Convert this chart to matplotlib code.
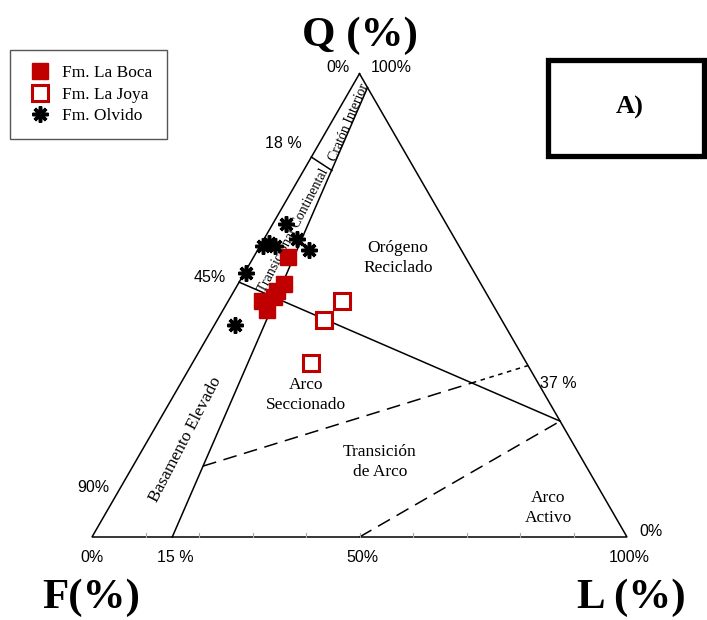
import numpy as np
import matplotlib
matplotlib.use("Agg")
import matplotlib.pyplot as plt
from matplotlib.patches import Rectangle

# ---------------- data (Q, F, L in %) ----------------
series_names = ["Fm. La Boca", "Fm. La Joya", "Fm. Olvido"]

boca_Q = [60.5, 54.7, 53.2, 50.9, 48.9, 51.7]
boca_F = [33.2, 36.7, 38.8, 42.7, 42.8, 40.1]
boca_L = [6.3, 8.6, 8.0, 6.4, 8.3, 8.2]

joya_Q = [51.0, 46.9, 37.5]
joya_F = [27.7, 33.1, 40.3]
joya_L = [21.3, 20.0, 22.2]

olv_Q = [67.5, 64.4, 61.9, 62.9, 63.4, 62.7, 56.9, 45.7]
olv_F = [30.0, 29.5, 28.5, 36.6, 35.2, 34.4, 42.7, 50.4]
olv_L = [2.5, 6.1, 9.6, 0.5, 1.4, 2.9, 0.4, 3.9]

# field boundaries (Q, F, L)
triangle = [(100, 0, 0), (0, 100, 0), (0, 0, 100), (100, 0, 0)]
continental_line = [(0, 85, 15), (97, 0, 3)]
recycled_line = [(55, 45, 0), (25, 0, 75)]
craton_sep = [(82, 18, 0), (79.1, 15.6, 5.3)]
arc_line = [(15.3, 71.6, 13.1), (37, 0, 63)]
active_dashed = [(0, 50, 50), (25, 0, 75)]
bottom_ticks = [10, 20, 30, 40, 50, 60, 70, 80, 90]

RED = "#C00000"
SERIF = "Liberation Serif"
SANS = "Liberation Sans"


def tern(Q, F, L):
    Q = np.asarray(Q, float); F = np.asarray(F, float); L = np.asarray(L, float)
    s = Q + F + L
    q, l = Q / s, L / s
    return l + q / 2.0, q * np.sqrt(3) / 2.0


def to_xy(pts):
    Q, F, L = zip(*pts)
    return tern(Q, F, L)


def line(pts, **kw):
    x, y = to_xy(pts)
    ax.plot(x, y, **kw)


W, H = 707, 620
fig = plt.figure(figsize=(W / 100, H / 100), dpi=100)
ax = fig.add_axes([0, 0, 1, 1])
S = 535.0
x0p, y0p = 92.0, 537.0
ax.set_xlim(-x0p / S, (W - x0p) / S)
ax.set_ylim(-(H - y0p) / S, y0p / S)
ax.axis("off")


def P(px, py):
    return (px - x0p) / S, (y0p - py) / S


lw = 1.1
line(triangle, color="black", lw=lw, solid_joinstyle="miter")
line(continental_line, color="black", lw=lw)
line(recycled_line, color="black", lw=lw)
line(craton_sep, color="black", lw=lw)
line(active_dashed, color="black", lw=lw, dashes=(9, 5))

# arc line: dashed up to the recycled-orogen line, dotted beyond
ax_, ay_ = to_xy(arc_line)
cx_, cy_ = to_xy(recycled_line)
A = np.array([ax_[0], ay_[0]]); B = np.array([ax_[1], ay_[1]])
C = np.array([cx_[0], cy_[0]]); D = np.array([cx_[1], cy_[1]])
M = np.column_stack([B - A, C - D])
s_, u_ = np.linalg.solve(M, C - A)
X = A + s_ * (B - A)
ax.plot([A[0], X[0]], [A[1], X[1]], color="black", lw=lw, dashes=(9, 5))
ax.plot([X[0], B[0]], [X[1], B[1]], color="black", lw=lw, dashes=(3, 3))

# small ticks along F-L base
for t in bottom_ticks:
    x, y = tern([0], [100 - t], [t])
    ax.plot([x[0], x[0]], [y[0], y[0] + 4 / S], color="#aaaaaa", lw=0.8)

# data
xb, yb = tern(boca_Q, boca_F, boca_L)
ax.plot(xb, yb, ls="none", marker="s", ms=11.5, mfc=RED, mec=RED,
        label=series_names[0], zorder=5)
xj, yj = tern(joya_Q, joya_F, joya_L)
ax.plot(xj, yj, ls="none", marker="s", ms=11, mfc="white", mec=RED, mew=2.2,
        label=series_names[1], zorder=5)
xo, yo = tern(olv_Q, olv_F, olv_L)
ax.plot(xo, yo, ls="none", marker=(8, 2, 0), ms=11.5, mec="black", mew=2.5,
        color="black", label=series_names[2], zorder=6)

# axis titles
tt = dict(fontsize=31, fontweight="bold", family=SERIF, ha="center", va="center")
ax.text(*P(360, 36), "Q (%)", **tt)
ax.text(*P(91, 598), "F(%)", **tt)
ax.text(*P(631, 598), "L (%)", **tt)

# percent labels
pct = dict(fontsize=11.5, family=SANS, ha="center", va="center")
ax.text(*P(338, 67), "0%", **pct)
ax.text(*P(391, 67), "100%", **pct)
ax.text(*P(283, 143), "18 %", **pct)
ax.text(*P(210, 277), "45%", **pct)
ax.text(*P(93, 487), "90%", **pct)
ax.text(*P(558, 383), "37 %", **pct)
ax.text(*P(651, 532), "0%", **pct)
ax.text(*P(92, 557), "0%", **pct)
ax.text(*P(175, 557), "15 %", **pct)
ax.text(*P(362, 557), "50%", **pct)
ax.text(*P(629, 557), "100%", **pct)

# field labels
fl = dict(fontsize=12.5, family=SERIF, ha="center", va="center", linespacing=1.3)
ax.text(*P(398, 258), "Orógeno\nReciclado", **fl)
ax.text(*P(306, 395), "Arco\nSeccionado", **fl)
ax.text(*P(380, 462), "Transición\nde Arco", **fl)
ax.text(*P(548, 508), "Arco\nActivo", **fl)
ax.text(*P(186, 440), "Basamento Elevado", fontsize=12.5, family=SERIF,
        rotation=62.5, ha="center", va="center")
ax.text(*P(294, 230), "Transicional Continental", fontsize=10, family=SERIF,
        rotation=62.5, ha="center", va="center")
ax.text(*P(349, 122), "Cratón Interior", fontsize=10, family=SERIF,
        rotation=67, ha="center", va="center")

# legend
leg = ax.legend(loc="upper left", bbox_to_anchor=(10 / W, 1 - 50 / H),
                bbox_transform=fig.transFigure, prop={"family": SERIF, "size": 12.5},
                frameon=True, fancybox=False, edgecolor="#555555", framealpha=1,
                borderpad=0.85, handlelength=1.8, handletextpad=0.35,
                labelspacing=0.32, borderaxespad=0, numpoints=1)
leg.get_frame().set_linewidth(1.0)

# "A)" box
ax.add_patch(Rectangle(P(547.5, 155.5), (703.5 - 547.5) / S, (155.5 - 59.5) / S,
                       fill=False, lw=3.8, edgecolor="black", joinstyle="miter",
                       transform=ax.transData, clip_on=False))
ax.text(*P(630, 107), "A)", fontsize=19, fontweight="bold", family=SERIF,
        ha="center", va="center")

fig.savefig("out.png", dpi=100)
